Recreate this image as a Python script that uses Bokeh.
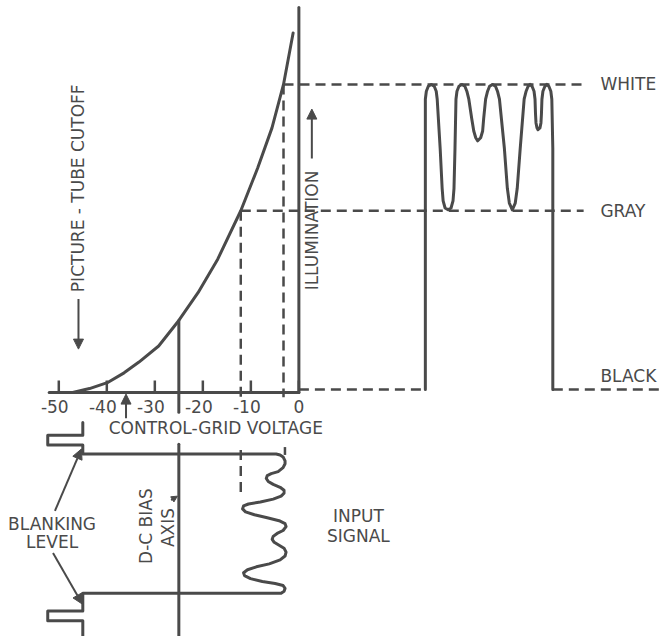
from math import pi
from bokeh.plotting import figure
from bokeh.models import Range1d, Arrow, NormalHead
from bokeh.core.properties import value
from bokeh.embed import file_html
from bokeh.resources import INLINE

INK = "#4a4a4a"
FONT = value("DejaVu Sans")
FS = "17px"

# ---- picture-tube characteristic: control-grid voltage (V) vs illumination (white = 100)
curve_v = [-47.1, -43.6, -39.9, -36.4, -33.3, -29.2, -25.0, -21.0, -16.9, -12.1, -8.6, -5.6, -3.2, -1.2]
curve_i = [0.0, 1.3, 3.2, 6.4, 9.9, 15.1, 23.4, 32.4, 43.3, 59.0, 72.8, 85.9, 100.0, 116.7]

tick_values = [-50, -40, -30, -20, -10, 0]
tick_labels = ["-50", "-40", "-30", "-20", "-10", "0"]

white_level = 100
gray_level = 59
black_level = 1
v_white = -3.2
v_gray = -12.1
v_bias = -25.0
v_cutoff = -36.0
v_blank = -45.0
v_sync = -52.3
axis_start = -52.0
level_end = 59.3

# ---- input signal: grid voltage (V) vs time (downward, arbitrary units)
in_v = [-45.0, -45.0, -52.3, -52.3, -45.0, -45.0, -4.73,
        -3.91, -3.29, -2.88, -2.88, -3.29, -4.32, -5.76, -6.58, -6.79, -6.38, -5.35, -3.91,
        -3.09, -3.09, -3.70, -5.35, -8.02, -10.49, -11.52, -11.73, -11.11, -9.26, -6.58,
        -4.12, -2.88, -2.67, -3.29, -4.53, -5.35, -5.56, -5.14, -4.12, -3.09, -2.67, -2.88,
        -3.91, -6.17, -8.85, -10.70, -11.52, -11.32, -10.08, -7.61, -4.94, -3.29, -2.88,
        -3.09, -3.70,
        -45.0, -45.0, -52.3, -52.3, -45.0, -45.0]
in_t = [-32, -19, -19, -9, -9, 0, 0,
        1, 3, 7, 10, 14, 18, 20, 22, 25, 28, 31, 34,
        37, 40, 43, 46, 49, 51, 53, 56, 59, 62, 65,
        68, 71, 74, 78, 81, 84, 87, 90, 93, 96, 100, 104,
        108, 112, 115, 118, 121, 124, 127, 130, 132, 134, 137,
        140, 142,
        142, 160, 160, 170, 170, 186]

# ---- output: illumination vs time (arbitrary units)
out_t = [0, 0, 1, 3, 6, 9, 11, 12, 15, 17, 18, 20, 23, 26, 28, 29, 30, 31, 32, 34, 37,
         40, 42, 44, 47, 49, 51, 53, 56, 58, 59, 61, 63, 65, 68, 71, 73, 75, 80, 83, 85,
         88, 91, 93, 96, 100, 102, 104, 106, 108, 110, 111, 111.5, 112, 113, 114, 116,
         117, 117.5, 118, 119, 121, 123, 125, 127, 128, 129, 129]
out_i = [1, 95.2, 97.8, 99.4, 100, 99.4, 97.8, 95.2, 79.2, 66.3, 62.2, 59.9, 59.3, 59.9,
         62.2, 66.3, 79.2, 95.2, 97.8, 99.4, 100, 99.4, 97.8, 95.2, 88.8, 84.9, 82.7, 81.7,
         82.7, 84.9, 88.8, 95.2, 97.8, 99.4, 100, 99.4, 97.8, 95.2, 79.2, 66.3, 61.5, 59.3,
         61.5, 66.3, 79.2, 95.2, 97.8, 99.4, 100, 99.4, 97.8, 95.2, 90.4, 87.5, 85.9, 85.3,
         85.9, 87.5, 90.4, 95.2, 97.8, 99.4, 100, 99.4, 97.8, 95.2, 79.2, 1]
black_left_t = [-128, 0]
black_right_t = [129, 238]

p = figure(width=660, height=636, output_backend="svg", toolbar_location=None,
           x_range=Range1d(-62.14, 75.31), y_range=Range1d(-79.17, 127.24),
           x_axis_location=None, y_axis_location=None, min_border=0)
p.extra_x_ranges = {"tout": Range1d(-430, 238)}
p.extra_y_ranges = {"tin": Range1d(186, -462)}
p.grid.visible = False
p.outline_line_color = None
p.background_fill_color = "white"

SOL = dict(line_color=INK, line_width=3, line_join="round", line_cap="round")
DASH = dict(line_color=INK, line_width=2.5, line_dash="10 6")

# voltage axis and ticks
p.line([axis_start, 0], [0, 0], **SOL)
p.segment(x0=tick_values, y0=[0] * 6, x1=tick_values, y1=[3.9] * 6, line_color=INK, line_width=2.5)
p.text(x=tick_values, y=[-4.6] * 6, text=tick_labels, text_align="center", text_baseline="middle",
       x_offset=[-4, -4, -4, -4, -4, 0], text_font=FONT, text_font_size=FS, text_color=INK)
# illumination axis
p.line([0, 0], [0, 125], **SOL)
# characteristic
p.line(curve_v, curve_i, **SOL)
# bias axis
p.line([v_bias, v_bias], [23.4, -6.4], **SOL)
p.line([v_bias, v_bias], [-10, 186], y_range_name="tin", **SOL)

# projection lines
p.line([v_white, v_white], [white_level, -1.5], **DASH)
p.line([v_gray, v_gray], [gray_level, -1.5], **DASH)
p.line([v_white, level_end], [white_level, white_level], **DASH)
p.line([v_gray, level_end], [gray_level, gray_level], **DASH)
p.line([v_gray, v_gray], [-4, 45], y_range_name="tin", **DASH)
p.line([v_white + 0.3, v_white + 0.3], [-7, 1], y_range_name="tin", line_color=INK, line_width=2.5)

# output waveform
p.line(out_t, out_i, x_range_name="tout", **SOL)
p.line(black_left_t, [black_level] * 2, x_range_name="tout", **DASH)
p.line(black_right_t, [black_level] * 2, x_range_name="tout", **DASH)

# input signal
p.line(in_v, in_t, y_range_name="tin", **SOL)

def txt(x, y, s, angle=0, align="left", yr="default"):
    p.text(x=[x], y=[y], text=[s], angle=angle, text_align=align, text_baseline="middle",
           text_font=FONT, text_font_size=FS, text_color=INK, y_range_name=yr)

txt(62.8, white_level, "WHITE")
txt(62.8, gray_level, "GRAY")
txt(62.8, 5.3, "BLACK")
txt(-17.3, -11.5, "CONTROL-GRID VOLTAGE", align="center")
txt(-45.9, 66.3, "PICTURE - TUBE CUTOFF", angle=pi / 2, align="center")
txt(2.7, 52.6, "ILLUMINATION", angle=pi / 2, align="center")
txt(-31.9, 73.5, "D-C BIAS", angle=pi / 2, align="center", yr="tin")
txt(-27.2, 75, "AXIS", angle=pi / 2, align="center", yr="tin")
txt(-51.4, 71, "BLANKING", align="center", yr="tin")
txt(-51.4, 90, "LEVEL", align="center", yr="tin")
txt(12.4, 63, "INPUT", align="center", yr="tin")
txt(12.4, 84, "SIGNAL", align="center", yr="tin")

def arrow(x0, y0, x1, y1, yr="default", size=10):
    p.add_layout(Arrow(x_start=x0, y_start=y0, x_end=x1, y_end=y1, y_range_name=yr,
                       line_color=INK, line_width=2,
                       end=NormalHead(size=size, fill_color=INK, line_color=INK, line_width=1)))

arrow(-45.9, 30.4, -45.9, 14.1)
arrow(2.7, 76, 2.7, 92)
arrow(v_cutoff, -8.3, v_cutoff, -0.5)
arrow(-50.8, 58, -45.3, -5, yr="tin")
arrow(-51.2, 101, -45.1, 153, yr="tin")
arrow(-26.6, 47, -25.3, 43, yr="tin", size=6)

open("out.html", "w").write(file_html(p, INLINE))
